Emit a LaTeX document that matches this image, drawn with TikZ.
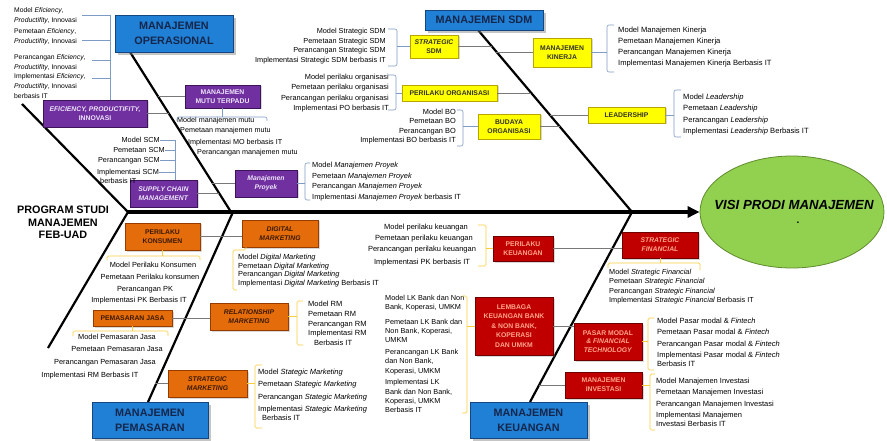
\documentclass[tikz,border=0pt]{standalone}
\usepackage{fontspec}
\setmainfont{Liberation Sans}
\usetikzlibrary{arrows.meta,shadows,shapes.geometric}
\definecolor{bluefill}{RGB}{31,128,214}
\definecolor{blueedge}{RGB}{20,70,130}
\definecolor{bluetext}{RGB}{22,38,75}
\definecolor{purfill}{RGB}{112,48,160}
\definecolor{puredge}{RGB}{60,20,90}
\definecolor{purtext}{RGB}{238,228,250}
\definecolor{yelfill}{RGB}{255,255,0}
\definecolor{yeledge}{RGB}{185,165,0}
\definecolor{yeltext}{RGB}{50,50,40}
\definecolor{orgfill}{RGB}{228,108,10}
\definecolor{orgedge}{RGB}{150,60,0}
\definecolor{orgtext}{RGB}{60,25,5}
\definecolor{redfill}{RGB}{192,0,0}
\definecolor{rededge}{RGB}{110,0,0}
\definecolor{redtext}{RGB}{255,165,140}
\definecolor{grnfill}{RGB}{146,208,80}
\definecolor{grnedge}{RGB}{95,140,45}
\definecolor{connc}{RGB}{120,120,120}
\definecolor{bbrk}{RGB}{125,155,195}
\definecolor{ybrk}{RGB}{250,205,60}
\tikzset{
  smallsh/.style={drop shadow={opacity=0.3,shadow xshift=1.5pt,shadow yshift=-1.5pt}},
  box/.style={draw, line width=0.6pt, inner sep=0pt, align=center, font=\bfseries\fontsize{6.8}{8.8}\selectfont},
  bluebox/.style={box, fill=bluefill, draw=blueedge, text=bluetext, font=\bfseries\fontsize{10.8}{15}\selectfont, drop shadow={opacity=0.45,shadow xshift=3pt,shadow yshift=-3pt}},
  purbox/.style={box, smallsh, fill=purfill, draw=puredge, text=purtext},
  yelbox/.style={box, smallsh, fill=yelfill, draw=yeledge, text=yeltext},
  orgbox/.style={box, smallsh, fill=orgfill, draw=orgedge, text=orgtext},
  redbox/.style={box, smallsh, fill=redfill, draw=rededge, text=redtext},
  lstL/.style={anchor=base west, align=left, inner sep=0pt, font=\fontsize{7.4}{10}\selectfont},
  lstR/.style={anchor=base east, align=right, inner sep=0pt, font=\fontsize{7.4}{10}\selectfont},
  lstC/.style={anchor=base, align=center, inner sep=0pt, font=\fontsize{7.4}{10}\selectfont},
  bone/.style={line width=2.2pt, black},
  spine/.style={line width=4pt, black, -{Triangle[length=12pt,width=11pt]}},
  conn/.style={draw=connc, line width=0.9pt},
  bb/.style={draw=bbrk, line width=0.6pt, rounded corners=2pt},
  yb/.style={draw=ybrk, line width=0.7pt, rounded corners=1.5pt}
}
\begin{document}
\begin{tikzpicture}[x=1pt,y=-1pt]
\useasboundingbox (0,0) rectangle (887,441);
\fill[white] (0,0) rectangle (887,441);

% ---------- bones ----------
\coordinate (opA) at (130,52);
\coordinate (opB) at (231,212);
\coordinate (sdA) at (478,30);
\coordinate (sdB) at (632,212);
\coordinate (pmA) at (233,212);
\coordinate (pmB) at (148,402);
\coordinate (kuA) at (632,212);
\coordinate (kuB) at (530,402);
\coordinate (tlA) at (22,104);
\coordinate (tlB) at (128,212);
\coordinate (tlC) at (48,348);
\draw[bone] (opA) -- (opB);
\draw[bone] (sdA) -- (sdB);
\draw[bone] (pmA) -- (pmB);
\draw[bone] (kuA) -- (kuB);
\draw[bone] (tlA) -- (tlB) -- (tlC);

% ---------- head ----------
\node[ellipse, draw=grnedge, line width=0.8pt, fill=grnfill, minimum width=184pt, minimum height=112pt, inner sep=0pt] (visi) at (792,212) {};
\node[inner sep=0pt, font=\bfseries\itshape\fontsize{13.2}{15}\selectfont] (vt) at (794,205) {VISI PRODI MANAJEMEN};
\node[inner sep=0pt, font=\bfseries\fontsize{10}{12}\selectfont] (vdot) at (798,223) {.};
\draw[spine] (tlB) -- (visi.west);

% ---------- main category boxes ----------
\node[bluebox, minimum width=118pt, minimum height=37pt] (op) at (174,33.5) {MANAJEMEN\\OPERASIONAL};
\node[bluebox, minimum width=118pt, minimum height=20pt] (sdm) at (484,20) {MANAJEMEN SDM};
\node[bluebox, minimum width=116pt, minimum height=36pt] (pem) at (150,420) {MANAJEMEN\\PEMASARAN};
\node[bluebox, minimum width=117pt, minimum height=36pt] (keu) at (528.5,420) {MANAJEMEN\\KEUANGAN};

% ---------- purple ----------
\node[purbox, minimum width=104pt, minimum height=27pt] (eff) at (95,113.5) {\textit{EFICIENCY, PRODUCTIFITY,}\\INNOVASI};
\node[purbox, minimum width=75pt, minimum height=23pt] (mutu) at (222.5,96.5) {MANAJEMEN\\MUTU TERPADU};
\node[purbox, minimum width=67pt, minimum height=27pt] (scm) at (163.5,193.5) {\textit{SUPPLY CHAIN}\\\textit{MANAGEMENT}};
\node[purbox, minimum width=62pt, minimum height=27pt] (proy) at (266,183.5) {\textit{Manajemen}\\\textit{Proyek}};

% ---------- yellow ----------
\node[yelbox, minimum width=48pt, minimum height=23pt] (ssdm) at (434,46.5) {\textit{STRATEGIC}\\SDM};
\node[yelbox, minimum width=58pt, minimum height=29pt] (kin) at (562,52.5) {MANAJEMEN\\KINERJA};
\node[yelbox, minimum width=95pt, minimum height=16pt] (po) at (449.5,93) {PERILAKU ORGANISASI};
\node[yelbox, minimum width=62pt, minimum height=25pt] (bud) at (509,126.5) {BUDAYA\\ORGANISASI};
\node[yelbox, minimum width=77pt, minimum height=16pt] (lead) at (626.5,115) {LEADERSHIP};

% ---------- orange ----------
\node[orgbox, minimum width=75pt, minimum height=27pt] (kons) at (162.5,236.5) {PERILAKU\\KONSUMEN};
\node[orgbox, minimum width=76pt, minimum height=27pt] (dig) at (280,233.5) {\textit{DIGITAL}\\\textit{MARKETING}};
\node[orgbox, minimum width=79pt, minimum height=16pt] (jasa) at (132.5,318) {PEMASARAN JASA};
\node[orgbox, minimum width=78pt, minimum height=27pt] (rel) at (249,316.5) {\textit{RELATIONSHIP}\\\textit{MARKETING}};
\node[orgbox, minimum width=79pt, minimum height=27pt] (smk) at (207.5,383.5) {\textit{STRATEGIC}\\\textit{MARKETING}};

% ---------- red ----------
\node[redbox, minimum width=60pt, minimum height=25pt] (pkeu) at (523,248.5) {PERILAKU\\KEUANGAN};
\node[redbox, minimum width=76pt, minimum height=26pt] (sfin) at (660,245) {\textit{STRATEGIC}\\\textit{FINANCIAL}};
\node[redbox, minimum width=78pt, minimum height=58pt, font=\bfseries\fontsize{6.8}{9.4}\selectfont] (lem) at (514,326) {LEMBAGA\\KEUANGAN BANK\\\& NON BANK,\\KOPERASI\\DAN UMKM};
\node[redbox, minimum width=68pt, minimum height=37pt] (pasar) at (608,341.5) {PASAR MODAL\\\textit{\& FINANCIAL}\\\textit{TECHNOLOGY}};
\node[redbox, minimum width=77pt, minimum height=26pt] (inv) at (603.5,385) {MANAJEMEN\\INVESTASI};

% ---------- grey connectors ----------
\draw[conn] (eff.east) -- ++(22,0);
\draw[conn] (mutu.west) -- ++(-27,0);
\draw[conn] (scm.east) -- ++(22,0);
\draw[conn] (proy.west) -- ++(-23,0);
\draw[conn] (ssdm.east) -- ++(34,0);
\draw[conn] (kin.west) -- ++(-37,0);
\draw[conn] (po.east) -- ++(34,0);
\draw[conn] (bud.east) -- ++(20,0);
\draw[conn] (lead.west) -- ++(-38,0);
\draw[conn] (kons.east) -- (dig.west |- kons.east);
\draw[conn] (jasa.east) -- (rel.west |- jasa.east);
\draw[conn] (smk.west) -- ++(-13,0);
\draw[conn] (pkeu.east) -- (sfin.west |- pkeu.east);
\draw[conn] (lem.east) -- (pasar.west |- lem.east);
\draw[conn] (inv.west) -- ++(-26,0);

% ---------- left title (base = last line) ----------
\node[anchor=base, align=center, inner sep=0pt, font=\bfseries\fontsize{10.8}{12.5}\selectfont] (prog) at (63,239) {PROGRAM STUDI\\MANAJEMEN\\FEB-UAD};

% ---------- Operasional lists ----------
\node[lstL, font=\fontsize{6.8}{10}\selectfont] (ol1) at (14,22.5) {Model \textit{Eficiency},\\\textit{Productifity}, Innovasi};
\node[lstL, font=\fontsize{6.8}{10}\selectfont] (ol2) at (14,43.5) {Pemetaan \textit{Eficiency},\\\textit{Productifity}, Innovasi};
\node[lstL, font=\fontsize{6.8}{10}\selectfont] (ol3) at (14,69.5) {Perancangan \textit{Eficiency},\\\textit{Productifity}, Innovasi};
\node[lstL, font=\fontsize{6.8}{10}\selectfont] (ol4) at (14,99) {Implementasi \textit{Eficiency},\\\textit{Productifity}, Innovasi\\berbasis IT};
\draw[bb, rounded corners=0pt] (82,15) -- (110,15) (82,40) -- (110,40) (92,60) -- (110,60) (92,78) -- (110,78) (110,15) -- (110,100);

\node[lstL, font=\fontsize{7.2}{10}\selectfont] (mm1) at (177,122.5) {Model manajemen mutu};
\node[lstL, font=\fontsize{7.2}{10}\selectfont] (mm2) at (180,132.5) {Pemetaan manajemen mutu};
\node[lstL, font=\fontsize{7.2}{10}\selectfont] (mm3) at (188,144.5) {Implementasi MO berbasis IT};
\node[lstL, font=\fontsize{7.2}{10}\selectfont] (mm4) at (197,155) {Perancangan manajemen mutu};
\draw[bb] (177,121) -- (177,117) -- (267,117) -- (267,121);
\draw[bb, rounded corners=0pt] (mutu.south) -- ++(0,9);

\coordinate (scx) at (175,0);
\node[lstR, font=\fontsize{7.3}{10}\selectfont] (sc1) at (160,143) {Model SCM};
\node[lstR, font=\fontsize{7.3}{10}\selectfont] (sc2) at (165,152.5) {Pemetaan SCM};
\node[lstR, font=\fontsize{7.3}{10}\selectfont] (sc3) at (160,162.5) {Perancangan SCM};
\node[lstL, font=\fontsize{7.3}{10}\selectfont] (sc4) at (97,174.5) {Implementasi SCM};
\node[lstL, font=\fontsize{7.3}{10}\selectfont] (sc5) at (100,183.5) {berbasis IT};
\draw[bb, rounded corners=0pt] (sc1.east) -- (sc1.east -| scx) (sc2.east) -- (sc2.east -| scx) (sc3.east) -- (sc3.east -| scx) (sc4.east) -- (sc4.east -| scx) (sc1.east -| scx) -- (scm.north -| scx);

\node[lstL, font=\fontsize{7.4}{10.4}\selectfont] (pr) at (312,199.2) {Model \textit{Manajemen Proyek}\\Pemetaan \textit{Manajemen Proyek}\\Perancangan \textit{Manajemen Proyek}\\Implementasi \textit{Manajemen Proyek} berbasis IT};
\draw[bb] (310,163) -- (305,163) -- (305,200) -- (310,200);
\draw[bb] (proy.east) -- ++(8,0);

% ---------- SDM lists ----------
\node[lstR, font=\fontsize{7.3}{9.6}\selectfont] (ss) at (386,62.3) {Model Strategic SDM\\Pemetaan Strategic SDM\\Perancangan Strategic SDM\\Implementasi Strategic SDM berbasis IT};
\draw[bb] (388,29) -- (397,29) -- (397,66) -- (388,66);
\draw[bb] (ssdm.west) -- ++(-13,0);

\node[lstL, font=\fontsize{7.6}{11.1}\selectfont] (kn) at (618,65.8) {Model Manajemen Kinerja\\Pemetaan Manajemen Kinerja\\Perancangan Manajemen Kinerja\\Implementasi Manajemen Kinerja Berbasis IT};
\draw[bb] (614,25) -- (607,25) -- (607,72) -- (614,72);
\draw[bb] (kin.east) -- ++(16,0);

\node[lstR, font=\fontsize{7.4}{10.3}\selectfont] (pol) at (389,110.4) {Model perilaku organisasi\\Pemetaan perilaku organisasi\\Perancangan perilaku organisasi\\Implementasi PO berbasis IT};
\draw[bb] (388,75) -- (396,75) -- (396,110) -- (388,110);
\draw[bb] (po.west) -- ++(-6,0);

\node[lstR, font=\fontsize{7.4}{9.5}\selectfont] (bol) at (456,143) {Model BO\\Pemetaan BO\\Perancangan BO\\Implementasi BO berbasis IT};
\draw[bb] (457,110) -- (463,110) -- (463,146) -- (457,146);
\draw[bb] (bud.west) -- ++(-15,0);

\node[lstL, font=\fontsize{7.6}{11.3}\selectfont] (ldl) at (683,133.4) {Model \textit{Leadership}\\Pemetaan \textit{Leadership}\\Perancangan \textit{Leadership}\\Implementasi \textit{Leadership} Berbasis IT};
\draw[bb] (681,90) -- (674,90) -- (674,137) -- (681,137);
\draw[bb] (lead.east) -- ++(9,0);

% ---------- Pemasaran lists ----------
\node[lstC] (k1) at (153,267.5) {Model Perilaku Konsumen};
\node[lstC] (k2) at (150,279.5) {Pemetaan Perilaku konsumen};
\node[lstC] (k3) at (145,291.5) {Perancangan PK};
\node[lstC] (k4) at (139,302.5) {Implementasi PK Berbasis IT};
\draw[yb] (107,260) -- (107,256) -- (200,256) -- (200,260);
\draw[yb] (kons.south) -- ++(0,6);

\node[lstL, font=\fontsize{7.4}{8.6}\selectfont] (dg) at (238,285.3) {Model \textit{Digital Marketing}\\Pemetaan \textit{Digital Marketing}\\Perancangan \textit{Digital Marketing}\\Implementasi \textit{Digital Marketing} Berbasis IT};
\draw[yb] (246,247) -- (246,250) -- (233,250) -- (233,290) -- (237,290);

\node[lstC] (j1) at (117,339.5) {Model Pemasaran Jasa};
\node[lstC] (j2) at (117,351.5) {Pemetaan Pemasaran Jasa};
\node[lstC] (j3) at (105,364.5) {Perancangan Pemasaran Jasa};
\node[lstC] (j4) at (90,377.5) {Implementasi RM Berbasis IT};
\draw[yb] (73,336) -- (73,331) -- (168,331) -- (168,336);
\draw[yb] (jasa.south) -- ++(0,5);

\node[lstL, font=\fontsize{7.5}{9.8}\selectfont] (rm) at (308,345.7) {Model RM\\Pemetaan RM\\Perancangan RM\\Implementasi RM\\\hspace*{6pt}Berbasis IT};
\draw[yb] (303,301) -- (297,301) -- (297,345) -- (303,345);
\draw[yb] (rel.east) -- ++(9,0);

\node[lstL, font=\fontsize{7.5}{12.3}\selectfont] (sm) at (258,411.4) {Model \textit{Stategic Marketing}\\Pemetaan \textit{Stategic Marketing}\\Perancangan \textit{Stategic Marketing}\\Implementasi \textit{Stategic Marketing}};
\node[lstL, font=\fontsize{7.5}{10}\selectfont] (sm2) at (262,420.5) {Berbasis IT};
\draw[yb] (262,365) -- (255,365) -- (255,428) -- (262,428);
\draw[yb] (smk.east) -- ++(8,0);

% ---------- Keuangan lists ----------
\node[lstC, font=\fontsize{7.5}{10}\selectfont] (pk1) at (426,229.5) {Model perilaku keuangan};
\node[lstC, font=\fontsize{7.5}{10}\selectfont] (pk2) at (424,240.5) {Pemetaan perilaku keuangan};
\node[lstC, font=\fontsize{7.5}{10}\selectfont] (pk3) at (422,251.5) {Perancangan perilaku keuangan};
\node[lstC, font=\fontsize{7.5}{10}\selectfont] (pk4) at (422,264.5) {Implementasi PK berbasis IT};
\draw[yb] (478,225) -- (486,225) -- (486,266) -- (478,266);
\draw[yb] (pkeu.west) -- ++(-7,0);

\node[lstL, font=\fontsize{7.3}{9.4}\selectfont] (sf) at (609,302.7) {Model \textit{Strategic Financial}\\Pemetaan \textit{Strategic Financial}\\Perancangan \textit{Strategic Financial}\\Implementasi \textit{Strategic Financial} Berbasis IT};
\draw[yb] (608,268) -- (608,263) -- (700,263) -- (700,270);
\draw[yb] (sfin.south) -- ++(0,5);

\node[lstL, font=\fontsize{7.3}{9.3}\selectfont] (lk) at (385,412.8) {Model LK Bank dan Non\\Bank, Koperasi, UMKM\\[5pt]Pemetaan LK Bank dan\\Non Bank, Koperasi,\\UMKM\\[2.5pt]Perancangan LK Bank\\dan Non Bank,\\Koperasi, UMKM\\[2.5pt]Implementasi LK\\Bank dan Non Bank,\\Koperasi, UMKM\\Berbasis IT};
\draw[yb] (462,296) -- (467,296) -- (467,413) -- (462,413);
\draw[yb] (lem.west) -- ++(-8,0);

\node[lstL, font=\fontsize{7.5}{9.3}\selectfont] (pm) at (657,366.7) {Model Pasar modal \& \textit{Fintech}\\[2pt]Pemetaan Pasar modal \& \textit{Fintech}\\[2pt]Perancangan Pasar modal \& \textit{Fintech}\\[2pt]Implementasi Pasar modal \& \textit{Fintech}\\Berbasis IT};
\draw[yb] (654,318) -- (648,318) -- (648,370) -- (654,370);
\draw[yb] (pasar.east) -- ++(6,0);

\node[lstL, font=\fontsize{7.5}{9.3}\selectfont] (iv) at (656,426.7) {Model Manajemen Investasi\\[2pt]Pemetaan Manajemen Investasi\\[2pt]Perancangan Manajemen Investasi\\[2pt]Implementasi Manajemen\\Investasi Berbasis IT};
\draw[yb] (655,374) -- (650,374) -- (650,430) -- (655,430);
\draw[yb] (inv.east) -- ++(8,0);
\end{tikzpicture}
\end{document}
